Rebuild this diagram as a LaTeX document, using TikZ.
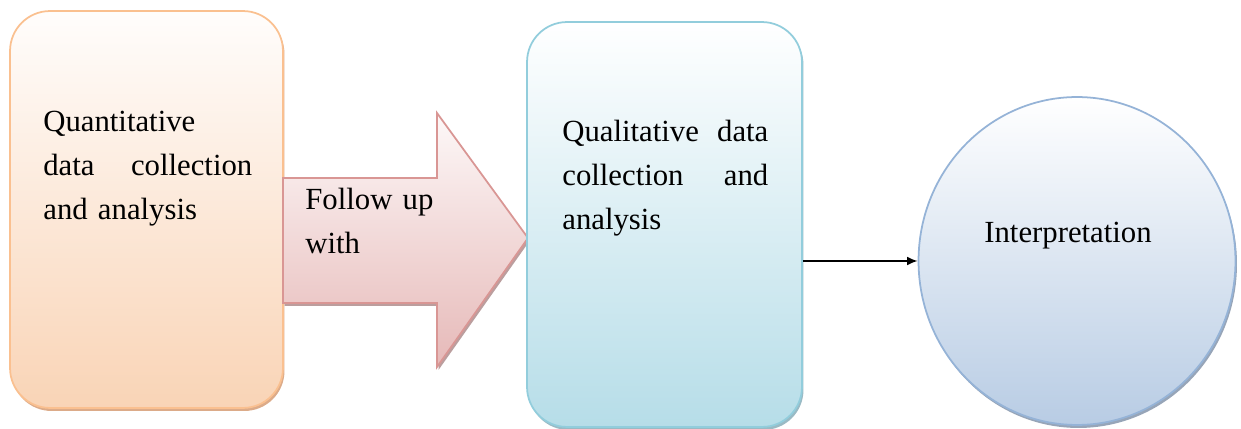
\documentclass[tikz,border=0pt]{standalone}
\usepackage{fontspec}
\setmainfont{Liberation Serif}
\usetikzlibrary{shapes.geometric,shadows,arrows.meta}
\definecolor{qborder}{HTML}{FAC090}
\definecolor{qtop}{HTML}{FFFDFC}
\definecolor{qbot}{HTML}{F9D4B6}
\definecolor{qshadow}{HTML}{D8A27C}
\definecolor{aborder}{HTML}{D99694}
\definecolor{atop}{HTML}{FDF8F8}
\definecolor{abot}{HTML}{E6B9B8}
\definecolor{ashadow}{HTML}{B49494}
\definecolor{mborder}{HTML}{92CDDC}
\definecolor{mtop}{HTML}{FFFFFF}
\definecolor{mbot}{HTML}{B6DDE8}
\definecolor{mshadow}{HTML}{8FB2BE}
\definecolor{cborder}{HTML}{95B3D7}
\definecolor{ctop}{HTML}{FFFFFF}
\definecolor{cbot}{HTML}{B8CCE4}
\definecolor{cshadow}{HTML}{8C9BB0}
\newcommand\bigtxt{\fontsize{17.5}{25}\selectfont}
\begin{document}
\begin{tikzpicture}[x=0.02cm,y=0.02cm,
  shape line/.style={line width=1pt},
  myshadow/.style={drop shadow={shadow xshift=0.03cm,shadow yshift=-0.06cm,fill=#1,opacity=0.9}},
  roundbox/.style={draw, shape line, rounded corners=0.8cm, inner sep=0pt},
  label text/.style={inner sep=0pt, font=\bigtxt, align=left}
]
\useasboundingbox (0,0) rectangle (1241,429);

% left box
\node[roundbox, draw=qborder, top color=qtop, bottom color=qbot, myshadow=qshadow,
      minimum width=5.46cm, minimum height=7.94cm] (quant) at (146.5,219.5) {};
\node[label text, anchor=base west, text width=4.18cm] (quanttxt) at (43,297)
  {Quantitative\\data\hfill collection\\and analysis};

% block arrow
\path[draw=aborder, shape line, top color=atop, bottom color=abot, myshadow=ashadow]
  (283,251) -- (437,251) -- (437,316) -- (528,191) -- (437,62) -- (437,126) -- (283,126) -- cycle;
\node[label text, anchor=base west, text width=3cm] (followtxt) at (305,219) {Follow up\\with};

% middle box
\node[roundbox, draw=mborder, top color=mtop, bottom color=mbot, myshadow=mshadow,
      minimum width=5.5cm, minimum height=8.1cm] (mid) at (664.5,204.5) {};
\node[label text, anchor=base west, text width=4.12cm] (midtxt) at (562,287)
  {Qualitative\hfill data\\collection\hfill and\\analysis};

% circle
\node[ellipse, draw=cborder, shape line, top color=ctop, bottom color=cbot, myshadow=cshadow,
      minimum width=6.34cm, minimum height=6.56cm, inner sep=0pt] (interp) at (1077,168) {};
\node[inner sep=0pt, font=\bigtxt, anchor=base] (interptxt) at (1068,186) {Interpretation};

% connector
\draw[line width=0.9pt, -{Latex[length=6pt,width=5pt]}] (mid.east |- interp.west) -- (interp.west);
\end{tikzpicture}
\end{document}
